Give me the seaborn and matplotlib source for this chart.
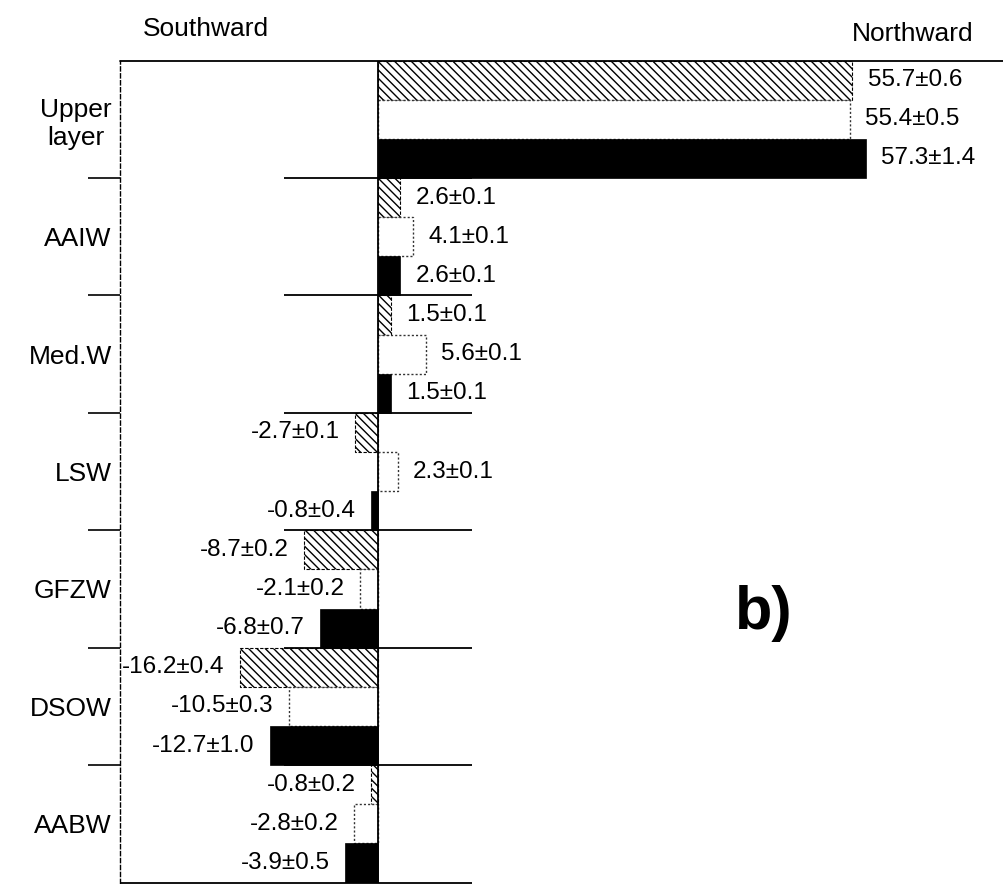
import matplotlib
matplotlib.use("Agg")
import matplotlib.pyplot as plt
import seaborn as sns
import pandas as pd
import numpy as np

# Water masses (top to bottom) and transports for three estimates
masses = ["Upper\nlayer", "AAIW", "Med.W", "LSW", "GFZW", "DSOW", "AABW"]
series = ["Estimate 1", "Estimate 2", "Estimate 3"]

est1 = [55.7, 2.6, 1.5, -2.7, -8.7, -16.2, -0.8]
est1_err = [0.6, 0.1, 0.1, 0.1, 0.2, 0.4, 0.2]
est2 = [55.4, 4.1, 5.6, 2.3, -2.1, -10.5, -2.8]
est2_err = [0.5, 0.1, 0.1, 0.1, 0.2, 0.3, 0.2]
est3 = [57.3, 2.6, 1.5, -0.8, -6.8, -12.7, -3.9]
est3_err = [1.4, 0.1, 0.1, 0.4, 0.7, 1.0, 0.5]

values = [est1, est2, est3]
errors = [est1_err, est2_err, est3_err]

df = pd.DataFrame({
    "mass": np.tile(masses, len(series)),
    "series": np.repeat(series, len(masses)),
    "value": np.concatenate(values),
})

sns.set_theme(style="white")
plt.rcParams["font.family"] = ["Liberation Sans", "DejaVu Sans"]
plt.rcParams["text.color"] = "black"
plt.rcParams["axes.labelcolor"] = "black"
plt.rcParams["ytick.color"] = "black"
plt.rcParams["xtick.color"] = "black"
plt.rcParams["hatch.color"] = "black"
plt.rcParams["hatch.linewidth"] = 1.0

W, H = 1004, 884
fig = plt.figure(figsize=(W / 100, H / 100), dpi=100)
ax = fig.add_axes([120 / W, 1.5 / H, (W - 120) / W, (883 - 61) / H])

sns.barplot(data=df, y="mass", x="value", hue="series", order=masses,
            hue_order=series, orient="h", width=1.0, dodge=True,
            palette=["white", "white", "black"], saturation=1,
            errorbar=None, legend=False, ax=ax)

# Bar styles: hatched, open dotted, solid
for i, cont in enumerate(ax.containers):
    for p in cont:
        if i == 0:
            p.set_facecolor("white")
            p.set_hatch("\\\\\\\\")
            p.set_edgecolor("black")
            p.set_linewidth(0.8)
            p.set_linestyle((0, (3, 1.5)))
        elif i == 1:
            p.set_facecolor("white")
            p.set_edgecolor("#333333")
            p.set_linewidth(1.0)
            p.set_linestyle((0, (1.5, 1.5)))
        else:
            p.set_facecolor("black")
            p.set_edgecolor("black")
            p.set_linewidth(0.5)
    labels = [f"{v:.1f}\u00b1{e:.1f}" for v, e in zip(values[i], errors[i])]
    ax.bar_label(cont, labels=labels, padding=11, fontsize=17.5, color="black")

ax.set_xlim(-30.3, 73.5)
ax.set_ylim(6.5, -0.5)
ax.set_xlabel("")
ax.set_ylabel("")
ax.set_xticks([])

# Frame: dashed left edge, top rule, zero line and group separators
for s in ["top", "right", "bottom"]:
    ax.spines[s].set_visible(False)
ax.spines["left"].set_visible(True)
ax.spines["left"].set_color("black")
ax.spines["left"].set_linewidth(1.0)
ax.spines["left"].set_linestyle((0, (3, 2)))

ax.axhline(-0.5, color="black", lw=1.3, clip_on=False)
ax.axvline(0, color="black", lw=1.3)
bounds = np.arange(0.5, len(masses) - 1, 1.0)
ax.hlines(bounds, -11, 11, color="black", lw=1.3)
ax.hlines(len(masses) - 0.5, -30.3, 11, color="black", lw=1.3, clip_on=False)

ax.set_yticks(range(len(masses)))
ax.set_yticklabels(masses, fontsize=19, multialignment="center", color="black")
ax.set_yticks(bounds, minor=True)
ax.tick_params(axis="y", which="major", length=0, pad=6)
ax.tick_params(axis="y", which="minor", length=23, width=1.2,
               direction="out", color="black", left=True)

fig.text(143 / W, 1 - 29 / H, "Southward", fontsize=19, ha="left", va="center")
fig.text(852 / W, 1 - 34 / H, "Northward", fontsize=19, ha="left", va="center")
fig.text(764 / W, 1 - 614 / H, "b)", fontsize=44, fontweight="bold",
         ha="center", va="center")

fig.savefig("out.png", dpi=100, facecolor="white")
